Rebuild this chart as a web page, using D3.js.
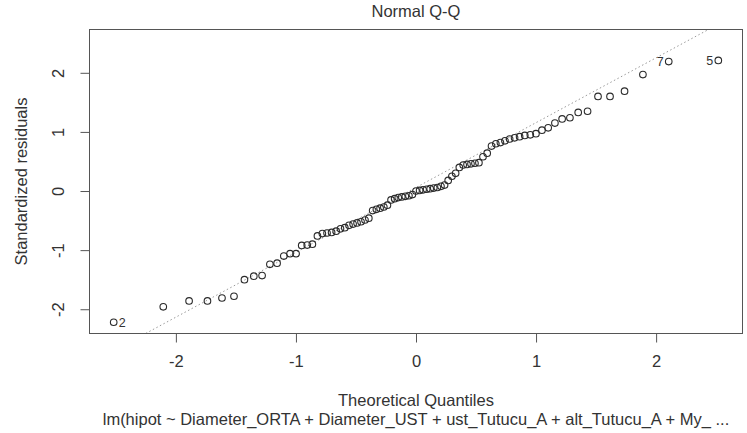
<!DOCTYPE html>
<html>
<head>
<meta charset="utf-8">
<title>Normal Q-Q</title>
<script src="https://cdn.jsdelivr.net/npm/d3@7"></script>
<style>
  body { margin: 0; background: #fff; }
  text { font-family: "Liberation Sans", Arial, sans-serif; fill: #333; }
</style>
</head>
<body>
<script>
// theoretical quantiles (qnorm(ppoints(85)))
var theoreticalQ = [
  -2.518,-2.105,-1.890,-1.737,-1.616,-1.516,-1.429,-1.351,-1.282,-1.217,
  -1.157,-1.101,-1.049,-0.999,-0.952,-0.906,-0.863,-0.821,-0.780,-0.741,
  -0.703,-0.665,-0.629,-0.593,-0.558,-0.524,-0.491,-0.458,-0.425,-0.393,
  -0.361,-0.330,-0.299,-0.268,-0.238,-0.208,-0.178,-0.148,-0.118,-0.089,
  -0.059,-0.030,0,
  0.030,0.059,0.089,0.118,0.148,0.178,0.208,0.238,0.268,0.299,0.330,
  0.361,0.393,0.425,0.458,0.491,0.524,0.558,0.593,0.629,0.665,0.703,
  0.741,0.780,0.821,0.863,0.906,0.952,0.999,1.049,1.101,1.157,1.217,
  1.282,1.351,1.429,1.516,1.616,1.737,1.890,2.105,2.518
];
// sorted standardized residuals
var stdResiduals = [
  -2.22,-1.96,-1.86,-1.86,-1.81,-1.78,-1.50,-1.44,-1.43,-1.24,
  -1.22,-1.10,-1.06,-1.06,-0.92,-0.915,-0.90,-0.76,-0.72,-0.71,
  -0.70,-0.68,-0.64,-0.62,-0.58,-0.56,-0.54,-0.52,-0.49,-0.46,
  -0.33,-0.31,-0.29,-0.27,-0.24,-0.15,-0.13,-0.11,-0.10,-0.09,
  -0.08,-0.06,0.00,0.01,0.02,0.03,0.04,0.05,0.06,0.08,
  0.10,0.18,0.25,0.30,0.40,0.44,0.45,0.46,0.47,0.48,
  0.58,0.64,0.76,0.80,0.82,0.85,0.88,0.90,0.92,0.94,
  0.95,0.97,1.03,1.07,1.15,1.22,1.24,1.33,1.35,1.60,
  1.60,1.69,1.97,2.19,2.21
];
// labelled extreme points (index into the sorted arrays)
var idIndex = [0, 83, 84];
var idLabel = ["2", "7", "5"];

var xTicks = [-2, -1, 0, 1, 2];
var yTicks = [-2, -1, 0, 1, 2];
var normQuartiles = [-0.6745, 0.6745];

var title = "Normal Q-Q";
var xLabel = "Theoretical Quantiles";
var yLabel = "Standardized residuals";
var subCaption = "lm(hipot ~ Diameter_ORTA + Diameter_UST + ust_Tutucu_A + alt_Tutucu_A + My_ ...";

var width = 747, height = 433;
var plotLeft = 89.5, plotRight = 742.5, plotTop = 29.5, plotBottom = 333.5;
var fontSize = "16.5px";

var svg = d3.select("body").append("svg")
  .attr("width", width)
  .attr("height", height);

// R style limits: 4% padding, plus room for id labels on top
var xr = d3.extent(theoreticalQ);
var xpad = (xr[1] - xr[0]) * 0.04;
var yr = d3.extent(stdResiduals);
yr[1] = yr[1] + (yr[1] - yr[0]) * 0.075;
var ypad = (yr[1] - yr[0]) * 0.04;

var x = d3.scaleLinear().domain([xr[0] - xpad, xr[1] + xpad]).range([plotLeft, plotRight]);
var y = d3.scaleLinear().domain([yr[0] - ypad, yr[1] + ypad]).range([plotBottom, plotTop]);

svg.append("clipPath").attr("id", "plotclip")
  .append("rect")
  .attr("x", plotLeft).attr("y", plotTop)
  .attr("width", plotRight - plotLeft).attr("height", plotBottom - plotTop);

// qq line through the quartiles
var q1 = d3.quantile(stdResiduals, 0.25), q3 = d3.quantile(stdResiduals, 0.75);
var slope = (q3 - q1) / (normQuartiles[1] - normQuartiles[0]);
var intercept = q1 - slope * normQuartiles[0];
var xd = x.domain();
svg.append("line")
  .attr("clip-path", "url(#plotclip)")
  .attr("x1", x(xd[0])).attr("y1", y(intercept + slope * xd[0]))
  .attr("x2", x(xd[1])).attr("y2", y(intercept + slope * xd[1]))
  .attr("stroke", "#999")
  .attr("stroke-width", 1)
  .attr("stroke-dasharray", "1.5,2.5");

// points
svg.append("g").selectAll("circle")
  .data(theoreticalQ)
  .enter().append("circle")
  .attr("cx", function(d) { return x(d); })
  .attr("cy", function(d, i) { return y(stdResiduals[i]); })
  .attr("r", 3.3)
  .attr("fill", "none")
  .attr("stroke", "#2a2a2a")
  .attr("stroke-width", 1.1);

// id labels
var midX = (xd[0] + xd[1]) / 2;
svg.append("g").selectAll("text")
  .data(idIndex)
  .enter().append("text")
  .attr("x", function(d) {
    var px = x(theoreticalQ[d]);
    return theoreticalQ[d] > midX ? px - 5 : px + 5;
  })
  .attr("y", function(d) { return y(stdResiduals[d]); })
  .attr("dy", "0.35em")
  .attr("text-anchor", function(d) { return theoreticalQ[d] > midX ? "end" : "start"; })
  .style("font-size", "12.5px")
  .text(function(d, i) { return idLabel[i]; });

// box
svg.append("rect")
  .attr("x", plotLeft).attr("y", plotTop)
  .attr("width", plotRight - plotLeft).attr("height", plotBottom - plotTop)
  .attr("fill", "none")
  .attr("stroke", "#555")
  .attr("stroke-width", 1);

var tickFmt = function(d) { return String(d); };

// x axis
var xAxis = svg.append("g")
  .attr("transform", "translate(0," + plotBottom + ")")
  .call(d3.axisBottom(x).tickValues(xTicks).tickSize(9).tickPadding(13).tickFormat(tickFmt));
xAxis.select(".domain").remove();
xAxis.selectAll("line").attr("stroke", "#555");
xAxis.selectAll("text").style("font-size", fontSize).attr("fill", "#333");

// y axis, labels rotated like R
var yAxis = svg.append("g")
  .attr("transform", "translate(" + plotLeft + ",0)")
  .call(d3.axisLeft(y).tickValues(yTicks).tickSize(9).tickFormat(tickFmt));
yAxis.select(".domain").remove();
yAxis.selectAll("line").attr("stroke", "#555");
yAxis.selectAll("text")
  .attr("x", null).attr("dy", null)
  .attr("text-anchor", "middle")
  .attr("transform", "translate(-26,0) rotate(-90)")
  .attr("y", 0)
  .style("font-size", fontSize).attr("fill", "#333");

// titles
svg.append("text")
  .attr("x", (plotLeft + plotRight) / 2).attr("y", 17)
  .attr("text-anchor", "middle")
  .style("font-size", fontSize)
  .text(title);

svg.append("text")
  .attr("x", (plotLeft + plotRight) / 2).attr("y", 406)
  .attr("text-anchor", "middle")
  .style("font-size", fontSize)
  .text(xLabel);

svg.append("text")
  .attr("x", (plotLeft + plotRight) / 2).attr("y", 425)
  .attr("text-anchor", "middle")
  .style("font-size", fontSize)
  .text(subCaption);

svg.append("text")
  .attr("transform", "translate(27," + (plotTop + plotBottom) / 2 + ") rotate(-90)")
  .attr("text-anchor", "middle")
  .style("font-size", fontSize)
  .text(yLabel);
</script>
</body>
</html>
